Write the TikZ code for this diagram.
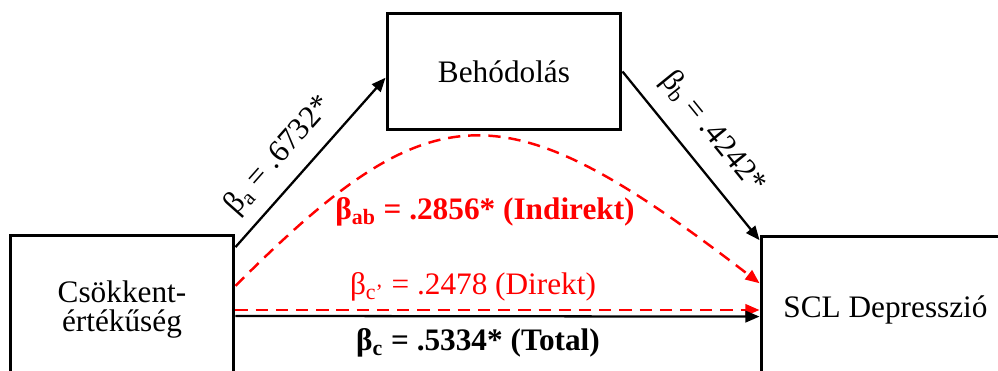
\documentclass[tikz,border=0pt]{standalone}
\usepackage{fontspec}
\setmainfont{Liberation Serif}
\usetikzlibrary{arrows.meta}

\begin{document}
\begin{tikzpicture}[x=0.02cm, y=-0.02cm, >={Triangle[length=8pt, width=6.5pt]},
    every node/.style={font=\fontsize{17.8}{16.5}\selectfont},
    box/.style={draw, line width=1.7pt, align=center, inner sep=0pt},
    path/.style={->, line width=1.3pt},
    redpath/.style={->, red, line width=1.4pt, dash pattern=on 7pt off 4.5pt}]
    % Rahmen (Kästen links/rechts laufen über den Rand)
    \useasboundingbox (0,0) rectangle (998,371);
    \clip (0,0) rectangle (998,371);

    % 1. Kästen
    \node[box, minimum width=4.48cm, minimum height=3cm] (csokk) at (122,310) {Csökkent-\\értékűség};
    \node[box, minimum width=4.68cm, minimum height=2.34cm] (behod) at (504,71.5) {Behódolás};
    \node[box, minimum width=4.98cm, minimum height=2.96cm] (scl) at (885.5,310) {SCL Depresszió};

    % 2. Pfade a und b
    \draw[path] (csokk.29) -- (behod.183)
        node[pos=0.43, sloped, above=0.14cm] (la) {β\textsubscript{a} = .6732*};
    \draw[path] (behod.east) -- (scl.151)
        node[pos=0.48, sloped, above=0.2cm] (lb) {β\textsubscript{b} = .4242*};

    % 3. Indirekter, direkter und totaler Effekt
    \draw[redpath] (csokk.12) .. controls (434,87) and (504,87) .. (scl.168);
    \draw[redpath] (csokk.east) -- (scl.west);
    \draw[path] (csokk.-3) -- (scl.183);

    % 4. Koeffizienten
    \node[text=red] (lab) at (485,212) {\textbf{β\textsubscript{ab} = .2856* (Indirekt)}};
    \node[text=red] (lcp) at (473,287) {β\textsubscript{c'} = .2478 (Direkt)};
    \node (lc) at (478,343) {\textbf{β\textsubscript{c} = .5334* (Total)}};
\end{tikzpicture}
\end{document}
